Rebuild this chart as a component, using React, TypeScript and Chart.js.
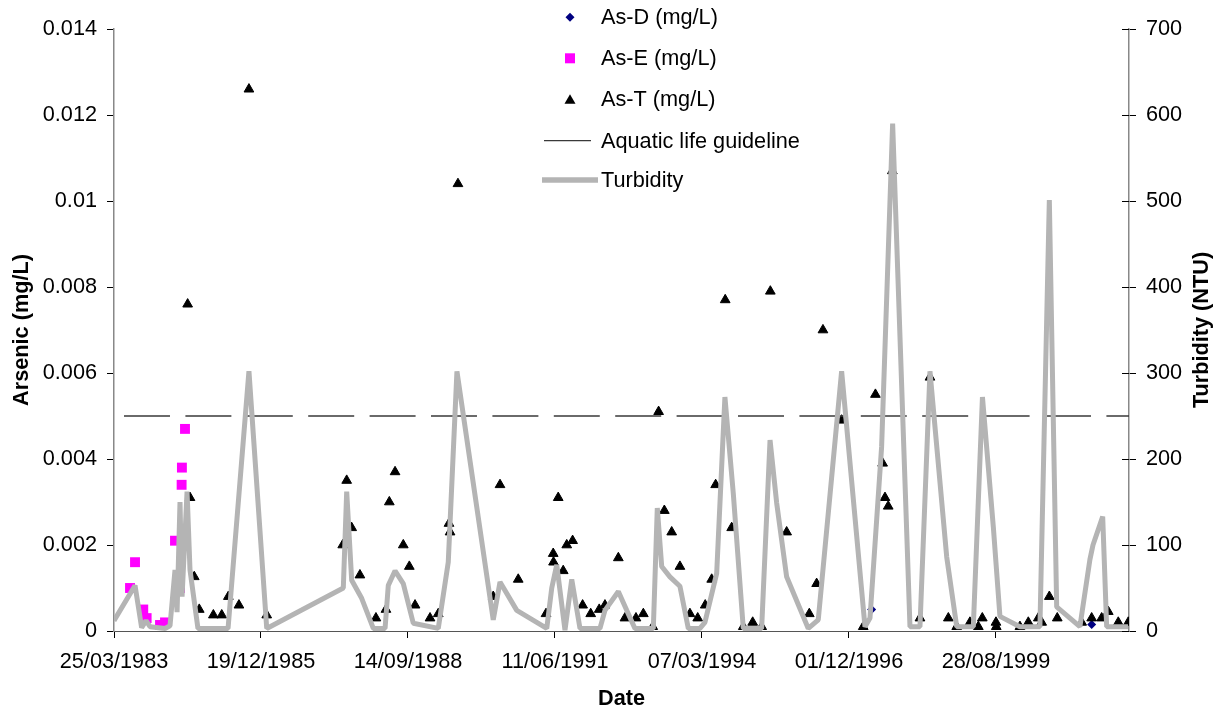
import React, { useEffect, useRef } from 'react';
import { Chart, registerables } from 'chart.js';

Chart.register(...registerables);

// ---------- DATA (x values are Excel date serial numbers) ----------
const xTickLabels = ['25/03/1983', '19/12/1985', '14/09/1988', '11/06/1991', '07/03/1994', '01/12/1996', '28/08/1999'];
const xAxisMaxSerial = 37305;

const leftTickMax = 0.014;
const leftTickStep = 0.002;
const rightTickMax = 700;
const rightTickStep = 100;
const guidelineValue = 0.005;
const guidelineDates = [30468, 37305];

const asDDates = [35554, 37051];
const asDValues = [0.0005, 0.00015];

const asEDates = [30509, 30543, 30599, 30622, 30713, 30747, 30815, 30849, 30860, 30862, 30883];
const asEValues = [0.001, 0.0016, 0.0005, 0.0003, 0.00014, 0.0002, 0.0021, 0.001, 0.0034, 0.0038, 0.0047];

const asTDates = [
  30901, 30917, 30946, 30980, 31076, 31133, 31178, 31250, 31318, 31439,
  31956, 31983, 32017, 32073, 32182, 32250, 32273, 32312, 32368, 32409,
  32448, 32550, 32606, 32679, 32686, 32740, 32980, 33026, 33150, 33339,
  33388, 33390, 33422, 33456, 33480, 33520, 33588, 33643, 33701, 33740,
  33831, 33876, 33951, 34001, 34065, 34105, 34144, 34194, 34250, 34318,
  34371, 34422, 34466, 34493, 34558, 34602, 34681, 34745, 34806, 34865,
  34976, 35130, 35180, 35223, 35350, 35497, 35580, 35629, 35645, 35667,
  35695, 35883, 35951, 36076, 36133, 36223, 36280, 36307, 36400, 36402,
  36563, 36620, 36688, 36711, 36763, 36817, 36983, 37051, 37119, 37164,
  37232, 37300,
];
const asTValues = [
  0.0076, 0.0031, 0.00126, 0.0005, 0.00037, 0.00037, 0.0008, 0.0006, 0.0126, 0.00037,
  0.002, 0.0035, 0.0024, 0.0013, 0.0003, 0.0005, 0.003, 0.0037, 0.002, 0.0015,
  0.0006, 0.0003, 0.0004, 0.0025, 0.0023, 0.0104, 0.0008, 0.0034, 0.0012, 0.0004,
  0.0018, 0.0016, 0.0031, 0.0014, 0.002, 0.0021, 0.0006, 0.0004, 0.0005, 0.0006,
  0.0017, 0.0003, 0.0003, 0.0004, 0.0001, 0.0051, 0.0028, 0.0023, 0.0015, 0.0004,
  0.0003, 0.0006, 0.0012, 0.0034, 0.0077, 0.0024, 0.0001, 0.0002, 0.0001, 0.0079,
  0.0023, 0.0004, 0.0011, 0.007, 0.0049, 0.0001, 0.0055, 0.0039, 0.0031, 0.0029,
  0.0107, 0.0003, 0.0059, 0.0003, 0.0001, 0.0002, 0.0001, 0.0003, 0.0002, 0.0001,
  0.0001, 0.0002, 0.0003, 0.0002, 0.0008, 0.0003, 0.0002, 0.0003, 0.0003, 0.00045,
  0.0002, 0.0002,
];

const turbDates = [
  30400, 30543, 30588, 30618, 30645, 30747, 30781, 30815, 30829, 30849,
  30863, 30897, 30917, 30971, 31176, 31318, 31439, 31960, 31983, 32017,
  32085, 32164, 32244, 32266, 32312, 32368, 32436, 32606, 32674, 32733,
  32980, 33026, 33140, 33344, 33378, 33412, 33468, 33514, 33570, 33706,
  33740, 33831, 33888, 33944, 34069, 34096, 34126, 34182, 34250, 34307,
  34386, 34420, 34500, 34556, 34613, 34681, 34806, 34863, 34908, 34976,
  35123, 35191, 35350, 35509, 35543, 35622, 35697, 35815, 35883, 35951,
  36065, 36133, 36246, 36308, 36382, 36427, 36563, 36699, 36763, 36813,
  36971, 37039, 37060, 37126, 37153, 37298,
];
const turbValues = [
  12, 53, 4, 12, 5, 3, 6, 71, 22, 150,
  40, 162, 71, 3, 3, 302, 3, 50, 162, 59,
  38, 3, 3, 53, 70, 55, 9, 3, 80, 302,
  13, 57, 24, 3, 50, 77, 1, 60, 3, 3,
  24, 46, 24, 3, 3, 143, 75, 63, 52, 3,
  3, 10, 67, 272, 160, 3, 3, 222, 149, 63,
  3, 13, 302, 5, 15, 214, 590, 5, 5, 302,
  86, 5, 5, 272, 121, 17, 5, 5, 501, 28,
  5, 83, 100, 133, 5, 5,
];

// ---------- helpers ----------
const FONT = '"Liberation Sans", Arial, Helvetica, sans-serif';
const FS = 21.7;
const parseDate = (s: string) => {
  const [d, m, y] = s.split('/').map(Number);
  return Date.UTC(y, m - 1, d) / 86400000 + 25569;
};
const xTickSerials = xTickLabels.map(parseDate);
const pts = (xs: number[], ys: number[]) => xs.map((x, i) => ({ x, y: ys[i] }));

const GUIDE_COLOR = '#3a3a3a';
const TURB_COLOR = '#b4b4b4';

const overlayPlugin = {
  id: 'overlay',
  afterDraw(chart: any) {
    const ctx = chart.ctx as CanvasRenderingContext2D;
    const { left, right, top, bottom } = chart.chartArea;
    const yT = chart.scales.yT;
    ctx.save();
    // inner part of right axis tick marks
    ctx.strokeStyle = '#000';
    ctx.lineWidth = 1;
    for (let v = 0; v <= rightTickMax; v += rightTickStep) {
      const y = Math.round(yT.getPixelForValue(v)) + 0.5;
      ctx.beginPath();
      ctx.moveTo(right - 7, y);
      ctx.lineTo(right, y);
      ctx.stroke();
    }
    // axis titles
    ctx.fillStyle = '#000';
    ctx.font = `bold ${FS}px ${FONT}`;
    ctx.textAlign = 'center';
    ctx.textBaseline = 'middle';
    ctx.fillText('Date', (left + right) / 2, 699);
    const midY = (top + bottom) / 2;
    ctx.save();
    ctx.translate(22, midY);
    ctx.rotate(-Math.PI / 2);
    ctx.fillText('Arsenic (mg/L)', 0, 0);
    ctx.restore();
    ctx.save();
    ctx.translate(1202, midY);
    ctx.rotate(-Math.PI / 2);
    ctx.fillText('Turbidity (NTU)', 0, 0);
    ctx.restore();

    // legend
    const mx = 570;
    const tx = 601;
    const rows = [17.3, 58.3, 99.3, 140.7, 180];
    // diamond
    ctx.fillStyle = '#000080';
    ctx.beginPath();
    ctx.moveTo(mx, rows[0] - 4.5);
    ctx.lineTo(mx + 4.5, rows[0]);
    ctx.lineTo(mx, rows[0] + 4.5);
    ctx.lineTo(mx - 4.5, rows[0]);
    ctx.closePath();
    ctx.fill();
    // square
    ctx.fillStyle = '#ff00ff';
    ctx.fillRect(mx - 5, rows[1] - 5, 10, 10);
    // triangle
    ctx.fillStyle = '#000';
    ctx.beginPath();
    ctx.moveTo(mx, rows[2] - 5);
    ctx.lineTo(mx + 5.5, rows[2] + 4.5);
    ctx.lineTo(mx - 5.5, rows[2] + 4.5);
    ctx.closePath();
    ctx.fill();
    // guideline
    ctx.strokeStyle = GUIDE_COLOR;
    ctx.lineWidth = 1.3;
    ctx.beginPath();
    ctx.moveTo(544, rows[3]);
    ctx.lineTo(591, rows[3]);
    ctx.stroke();
    // turbidity
    ctx.strokeStyle = TURB_COLOR;
    ctx.lineWidth = 5.5;
    ctx.beginPath();
    ctx.moveTo(542, rows[4]);
    ctx.lineTo(598, rows[4]);
    ctx.stroke();
    // texts
    ctx.fillStyle = '#000';
    ctx.font = `${FS}px ${FONT}`;
    ctx.textAlign = 'left';
    ctx.textBaseline = 'middle';
    const labels = ['As-D (mg/L)', 'As-E (mg/L)', 'As-T (mg/L)', 'Aquatic life guideline', 'Turbidity'];
    labels.forEach((t, i) => ctx.fillText(t, tx, rows[i] + 1));
    ctx.restore();
  },
};

export default function App() {
  const ref = useRef<HTMLCanvasElement>(null);
  useEffect(() => {
    if (!ref.current) return;
    Chart.defaults.font.family = FONT;
    Chart.defaults.font.size = FS;
    Chart.defaults.color = '#000';
    const chart = new Chart(ref.current, {
      type: 'scatter',
      data: {
        datasets: [
          {
            label: 'Turbidity',
            data: pts(turbDates, turbValues),
            yAxisID: 'yT',
            showLine: true,
            borderColor: TURB_COLOR,
            backgroundColor: TURB_COLOR,
            borderWidth: 5,
            borderJoinStyle: 'bevel',
            pointRadius: 0,
            order: 0,
          },
          {
            label: 'Aquatic life guideline',
            data: pts(guidelineDates, [guidelineValue, guidelineValue]),
            yAxisID: 'y',
            showLine: true,
            borderColor: GUIDE_COLOR,
            borderWidth: 1.3,
            borderDash: [46, 15.4],
            pointRadius: 0,
            order: 1,
          },
          {
            label: 'As-T (mg/L)',
            data: pts(asTDates, asTValues),
            yAxisID: 'y',
            pointStyle: 'triangle',
            pointRadius: 5.6,
            backgroundColor: '#000',
            borderColor: '#000',
            borderWidth: 1,
            order: 2,
          },
          {
            label: 'As-E (mg/L)',
            data: pts(asEDates, asEValues),
            yAxisID: 'y',
            pointStyle: 'rect',
            pointRadius: 7,
            backgroundColor: '#ff00ff',
            borderColor: '#ff00ff',
            borderWidth: 0,
            order: 3,
          },
          {
            label: 'As-D (mg/L)',
            data: pts(asDDates, asDValues),
            yAxisID: 'y',
            pointStyle: 'rectRot',
            pointRadius: 4.5,
            backgroundColor: '#000080',
            borderColor: '#000080',
            borderWidth: 0,
            order: 4,
          },
        ],
      },
      options: {
        responsive: false,
        animation: false,
        events: [],
        layout: { padding: { top: 29, left: 0, right: 0, bottom: 0 } },
        plugins: {
          legend: { display: false },
          tooltip: { enabled: false },
        },
        scales: {
          x: {
            type: 'linear',
            position: 'bottom',
            min: xTickSerials[0],
            max: xAxisMaxSerial,
            afterBuildTicks: (scale: any) => {
              scale.ticks = xTickSerials.map((v) => ({ value: v }));
            },
            afterFit: (scale: any) => {
              scale.height = 83;
            },
            ticks: {
              autoSkip: false,
              maxRotation: 0,
              padding: 11,
              callback: (_v: any, i: number) => xTickLabels[i],
            },
            grid: { drawOnChartArea: false, tickLength: 7, color: '#000' },
            border: { color: '#555', width: 1 },
          },
          y: {
            type: 'linear',
            position: 'left',
            min: 0,
            max: leftTickMax,
            afterFit: (scale: any) => {
              scale.width = 114;
            },
            ticks: {
              stepSize: leftTickStep,
              padding: 10,
              callback: (v: any) => String(Number(Number(v).toFixed(4))),
            },
            grid: { drawOnChartArea: false, tickLength: 7, color: '#000' },
            border: { color: '#888', width: 1.5 },
          },
          yT: {
            type: 'linear',
            position: 'right',
            min: 0,
            max: rightTickMax,
            afterFit: (scale: any) => {
              scale.width = 98;
            },
            ticks: {
              stepSize: rightTickStep,
              padding: 10,
              callback: (v: any) => String(Math.round(Number(v))),
            },
            grid: { drawOnChartArea: false, tickLength: 7, color: '#000' },
            border: { color: '#888', width: 1.5 },
          },
        },
      } as any,
      plugins: [overlayPlugin],
    });
    return () => chart.destroy();
  }, []);

  return (
    <div style={{ position: 'fixed', left: 0, top: 0, width: 1227, height: 714, background: '#fff' }}>
      <canvas ref={ref} width={1227} height={714} style={{ display: 'block' }} />
    </div>
  );
}
